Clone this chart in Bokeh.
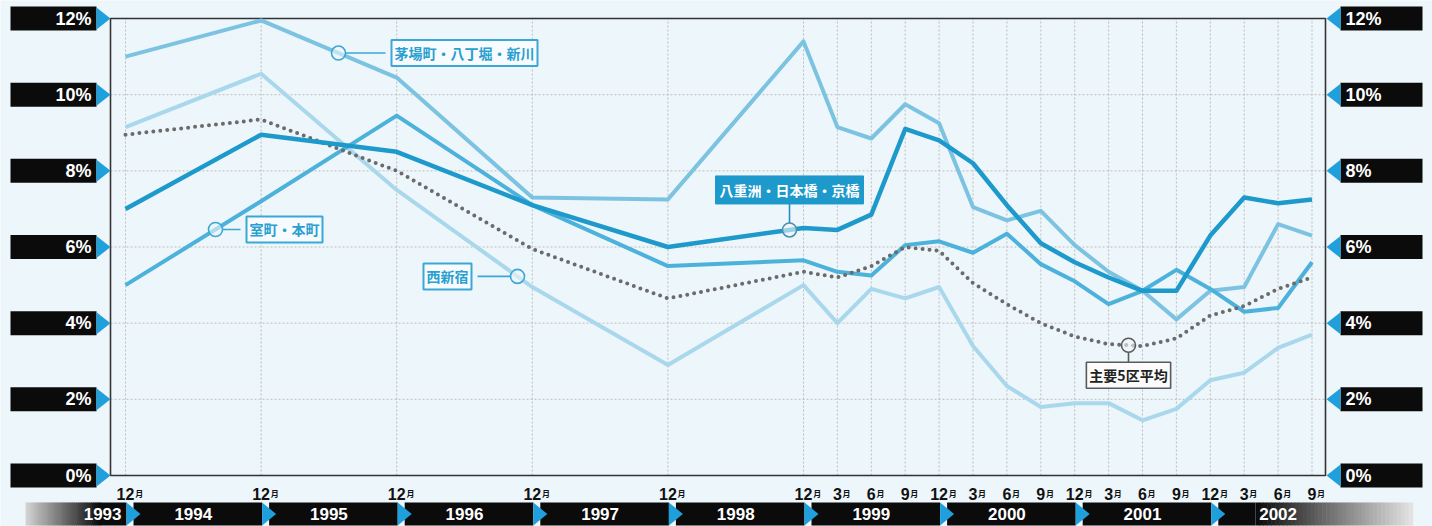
import numpy as np
from bokeh.plotting import figure
from bokeh.models import Range1d
from bokeh.core.properties import value
from bokeh.embed import file_html
from bokeh.resources import INLINE

# ---------------- data ----------------
periods = ["1993-12", "1994-12", "1995-12", "1996-12", "1997-12", "1998-12",
           "1999-3", "1999-6", "1999-9", "1999-12",
           "2000-3", "2000-6", "2000-9", "2000-12",
           "2001-3", "2001-6", "2001-9", "2001-12",
           "2002-3", "2002-6", "2002-9"]
years = ["1993", "1994", "1995", "1996", "1997", "1998", "1999", "2000", "2001", "2002"]
y_ticks = [0, 2, 4, 6, 8, 10, 12]

kayabacho = [11.0, 11.95, 10.45, 7.3, 7.25, 11.4, 9.15, 8.85, 9.75, 9.25,
             7.05, 6.7, 6.95, 6.05, 5.35, 4.85, 4.1, 4.85, 4.95, 6.6, 6.3]
yaesu = [7.0, 8.95, 8.5, 7.1, 6.0, 6.5, 6.45, 6.85, 9.1, 8.8,
         8.2, 7.1, 6.1, 5.6, 5.2, 4.85, 4.85, 6.3, 7.3, 7.15, 7.25]
muromachi = [5.0, 7.2, 9.45, 7.1, 5.5, 5.65, 5.35, 5.25, 6.05, 6.15,
             5.85, 6.35, 5.55, 5.1, 4.5, 4.85, 5.4, 4.9, 4.3, 4.4, 5.6]
nishishinjuku = [9.15, 10.55, 7.5, 4.95, 2.9, 5.0, 4.0, 4.9, 4.65, 4.95,
                 3.4, 2.35, 1.8, 1.9, 1.9, 1.45, 1.75, 2.5, 2.7, 3.35, 3.7]
average5 = [8.95, 9.35, 8.0, 5.95, 4.65, 5.35, 5.2, 5.5, 6.0, 5.9,
            5.05, 4.5, 4.0, 3.65, 3.45, 3.4, 3.6, 4.2, 4.45, 4.9, 5.2]

# ---------------- geometry ----------------
W, H = 1432, 526
QX0, QPX = 125.0, 33.9      # pixel x of the first period, pixels per quarter
Y0, YPX = 475.0, 38.08      # pixel y of 0 %, pixels per percentage point

BG = "#edf6fa"
BLACK = "#0b0b0b"
ARROW = "#1f9fdb"
C_KAYABA = "#7cc3e2"
C_NISHI = "#a9d8ec"
C_MURO = "#4cb1db"
C_YAESU = "#1d9acb"
C_AVG = "#6b6b6b"
C_TEXT = "#2a9fd0"


def X(px):
    return (px - QX0) / QPX


def Y(px):
    return (Y0 - px) / YPX


def dx(px):
    return px / QPX


def dy(px):
    return px / YPX


def quarter_index(s):
    yr, mo = map(int, s.split("-"))
    return (yr - 1993) * 4 + (mo - 12) / 3


q = np.array([quarter_index(s) for s in periods])

p = figure(width=W, height=H,
           x_range=Range1d(X(0), X(W)), y_range=Range1d(Y(H), Y(0)),
           x_axis_location=None, y_axis_location=None,
           toolbar_location=None, output_backend="svg",
           min_border=0, background_fill_color=BG, border_fill_color=BG,
           outline_line_color=None)
p.grid.visible = False

f_left, f_right = X(110), X(1325)

# grid lines
inner = y_ticks[1:-1]
p.segment(x0=[f_left] * len(inner), y0=inner, x1=[f_right] * len(inner), y1=inner,
          line_color="#c4bcbc", line_width=1, line_dash="2 2")
p.segment(x0=q, y0=[0] * len(q), x1=q, y1=[12] * len(q),
          line_color="#bdbdbd", line_width=1, line_dash="2 2")

# frame
p.quad(left=[f_left], right=[f_right], bottom=[0], top=[12],
       fill_alpha=0, line_color="#333333", line_width=1.6)

# series
p.line(q, nishishinjuku, line_color=C_NISHI, line_width=4, line_join="round")
p.line(q, kayabacho, line_color=C_KAYABA, line_width=4, line_join="round")
p.line(q, muromachi, line_color=C_MURO, line_width=4, line_join="round")
p.line(q, average5, line_color=C_AVG, line_width=4, line_dash="0 7", line_cap="round")
p.line(q, yaesu, line_color=C_YAESU, line_width=4.5, line_join="round")

JP = value("Noto Sans CJK JP")
LAT = value("Liberation Sans")


def marker(qa, series, color):
    ya = float(np.interp(qa, q, series))
    p.scatter([qa], [ya], marker="circle", size=14, fill_color=BG, fill_alpha=0.6,
              line_color=color, line_width=1.6)
    return ya


# callout: 茅場町・八丁堀・新川
qa = X(338)
ya = marker(qa, kayabacho, "#3aa7d6")
p.segment([qa + dx(7)], [ya], [qa + dx(47)], [ya], line_color="#3aa7d6", line_width=1.6)
p.text([qa + dx(53)], [ya], text=["茅場町・八丁堀・新川"], text_align="left", text_baseline="middle",
       text_font=JP, text_font_style="bold", text_font_size="14px", text_color=C_TEXT,
       background_fill_color="#f7fbfd", border_line_color="#3aa7d6", border_line_width=2, padding=3)

# callout: 室町・本町
qa = X(215)
ya = marker(qa, muromachi, "#3aa7d6")
p.segment([qa + dx(7)], [ya], [qa + dx(25)], [ya], line_color="#3aa7d6", line_width=1.6)
p.text([qa + dx(31)], [ya], text=["室町・本町"], text_align="left", text_baseline="middle",
       text_font=JP, text_font_style="bold", text_font_size="14px", text_color=C_TEXT,
       background_fill_color="#f7fbfd", border_line_color="#3aa7d6", border_line_width=2, padding=3)

# callout: 西新宿
qa = X(517)
ya = marker(qa, nishishinjuku, "#3aa7d6")
p.segment([qa - dx(7)], [ya], [qa - dx(40)], [ya], line_color="#3aa7d6", line_width=1.6)
p.text([qa - dx(46)], [ya], text=["西新宿"], text_align="right", text_baseline="middle",
       text_font=JP, text_font_style="bold", text_font_size="14px", text_color=C_TEXT,
       background_fill_color="#f7fbfd", border_line_color="#3aa7d6", border_line_width=2, padding=3)

# callout: 八重洲・日本橋・京橋
qa = X(789)
ya = marker(qa, yaesu, "#4f8fae")
p.segment([qa], [ya + dy(7)], [qa], [ya + dy(30)], line_color="#2a8fbf", line_width=1.6)
p.text([qa], [ya + dy(40)], text=["八重洲・日本橋・京橋"], text_align="center", text_baseline="middle",
       text_font=JP, text_font_style="bold", text_font_size="14px", text_color="white",
       background_fill_color=C_YAESU, border_line_color=C_YAESU, border_line_width=1, padding=4)

# callout: 主要5区平均
qa = X(1128)
ya = marker(qa, average5, "#5a5a5a")
p.segment([qa], [ya - dy(7)], [qa], [ya - dy(20)], line_color="#5a5a5a", line_width=1.6)
p.text([qa], [ya - dy(30)], text=["主要5区平均"], text_align="center", text_baseline="middle",
       text_font=JP, text_font_style="bold", text_font_size="14px", text_color="#222222",
       background_fill_color="#fbfbfb", border_line_color="#5a5a5a", border_line_width=1.6, padding=3)

# y tick labels, both sides
yt = np.array(y_ticks, dtype=float)
tick_txt = [f"{v}%" for v in y_ticks]
n = len(yt)
p.quad(left=[X(10)] * n, right=[X(96)] * n, bottom=yt - dy(12), top=yt + dy(12),
       fill_color=BLACK, line_color=None)
p.patches(xs=[[X(96), X(110), X(96)] for _ in yt],
          ys=[[v + dy(11), v, v - dy(11)] for v in yt], fill_color=ARROW, line_color=None)
p.text([X(91)] * n, yt, text=tick_txt, text_align="right", text_baseline="middle",
       text_font=LAT, text_font_style="bold", text_font_size="18px", text_color="white")

p.quad(left=[X(1340)] * n, right=[X(1422)] * n, bottom=yt - dy(12), top=yt + dy(12),
       fill_color=BLACK, line_color=None)
p.patches(xs=[[X(1340), X(1326), X(1340)] for _ in yt],
          ys=[[v + dy(11), v, v - dy(11)] for v in yt], fill_color=ARROW, line_color=None)
p.text([X(1345)] * n, yt, text=tick_txt, text_align="left", text_baseline="middle",
       text_font=LAT, text_font_style="bold", text_font_size="18px", text_color="white")

# x tick labels: month number plus a small 月
months = [s.split("-")[1] for s in periods]
base = Y(493)
p.text(q, [base] * len(q), text=months, text_align="center", text_baseline="alphabetic",
       text_font=LAT, text_font_style="bold", text_font_size="16px", text_color="#111111")
p.text(q + np.array([dx(len(m) * 4.6 + 0.5) for m in months]), [base] * len(q),
       text=["月"] * len(q), text_align="left", text_baseline="alphabetic",
       text_font=JP, text_font_style="bold", text_font_size="8px", text_color="#111111")

# year band
b_bot, b_top = Y(525), Y(502)
bounds = np.array([quarter_index(f"{y}-12") for y in years[:-1]])
seg_l = bounds[:-1] + dx(8)
seg_r = bounds[1:] + dx(1)
p.quad(left=seg_l, right=seg_r, bottom=[b_bot] * len(seg_l), top=[b_top] * len(seg_l),
       fill_color=BLACK, line_color=None)


def gradient(x_from, x_to, c_from, c_to, steps=40):
    edges = np.linspace(x_from, x_to, steps + 1)
    c0 = np.array([int(c_from[i:i + 2], 16) for i in (1, 3, 5)], dtype=float)
    c1 = np.array([int(c_to[i:i + 2], 16) for i in (1, 3, 5)], dtype=float)
    cols = []
    for t in np.linspace(0, 1, steps):
        c = c0 + (c1 - c0) * t
        cols.append("#%02x%02x%02x" % tuple(int(round(v)) for v in c))
    p.quad(left=edges[:-1], right=edges[1:] + dx(0.6), bottom=[b_bot] * steps, top=[b_top] * steps,
           fill_color=cols, line_color=None)


# 1993 fades in from the left, 2002 fades out to the right
gradient(X(25), X(100), "#d2d2d2", "#0b0b0b")
p.quad(left=[X(100)], right=[bounds[0] + dx(1)], bottom=[b_bot], top=[b_top],
       fill_color=BLACK, line_color=None)
p.quad(left=[bounds[-1] + dx(8)], right=[X(1255)], bottom=[b_bot], top=[b_top],
       fill_color=BLACK, line_color=None)
gradient(X(1255), X(1412), "#0b0b0b", "#e2e2e2")

p.patches(xs=[[b + dx(1), b + dx(15), b + dx(1)] for b in bounds],
          ys=[[b_top, (b_top + b_bot) / 2, b_bot] for _ in bounds],
          fill_color=ARROW, line_color=None)

centers = [quarter_index(f"{y}-12") - 2 for y in years]
mid = (b_top + b_bot) / 2
p.text([bounds[0] - dx(4)], [mid], text=[years[0]], text_align="right", text_baseline="middle",
       text_font=LAT, text_font_style="bold", text_font_size="17px", text_color="white")
p.text(centers[1:], [mid] * (len(years) - 1), text=years[1:], text_align="center",
       text_baseline="middle", text_font=LAT, text_font_style="bold", text_font_size="17px",
       text_color="white")

open("out.html", "w").write(file_html(p, INLINE))
